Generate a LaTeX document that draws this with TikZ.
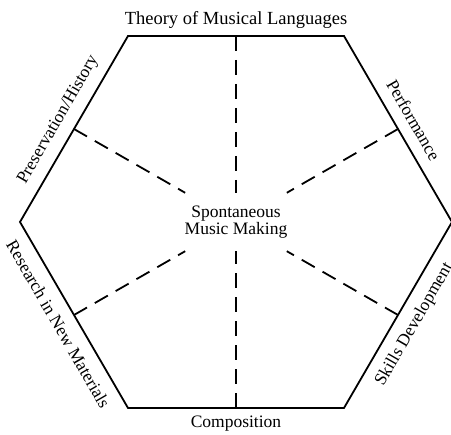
\documentclass[tikz,border=0pt]{standalone}
\usepackage{fontspec}
\setmainfont{Liberation Serif}
\usetikzlibrary{calc}

\begin{document}
\begin{tikzpicture}[x=1pt,y=1pt,
    facet/.style={font=\fontsize{17.5}{16.5}\selectfont,inner sep=1pt},
    spoke/.style={line width=1.8pt,dash pattern=on 15pt off 9pt},
    rim/.style={line width=1.8pt,line join=miter}]
  \useasboundingbox (-236,-213) rectangle (215,222);
  % corners of the hexagon
  \coordinate (tl) at (-108,186);
  \coordinate (tr) at (108,186);
  \coordinate (r) at (216,0);
  \coordinate (br) at (108,-186);
  \coordinate (bl) at (-108,-186);
  \coordinate (l) at (-216,0);
  % side midpoints
  \coordinate (mt) at ($(tl)!0.5!(tr)$);
  \coordinate (mtr) at ($(tr)!0.5!(r)$);
  \coordinate (mbr) at ($(r)!0.5!(br)$);
  \coordinate (mb) at ($(br)!0.5!(bl)$);
  \coordinate (mbl) at ($(bl)!0.5!(l)$);
  \coordinate (mtl) at ($(l)!0.5!(tl)$);
  % hexagon
  \draw[rim] (tl) -- (tr) -- (r) -- (br) -- (bl) -- (l) -- cycle;
  % centre
  \node[facet,align=center,minimum width=112pt,minimum height=58pt] (core) at (0,0) {Spontaneous\\Music Making};
  % spokes
  \foreach \m in {mt,mtr,mbr,mb,mbl,mtl}
    \draw[spoke] (\m) -- (core);
  % side labels
  \node[facet,anchor=base,font=\fontsize{18.5}{18}\selectfont] (theory) at (0,197) {Theory of Musical Languages};
  \node[facet,anchor=base] (comp) at (0,-206) {Composition};
  \node[facet,rotate=60] (hist) at ($(mtl)+(150:18)$) {Preservation/History};
  \node[facet,rotate=-60] (perf) at ($(mtr)+(30:18)$) {Performance};
  \node[facet,rotate=-60] (res) at ($(mbl)+(210:18)$) {Research in New Materials};
  \node[facet,rotate=60] (skill) at ($(mbr)+(330:19)$) {Skills Development};
\end{tikzpicture}
\end{document}
